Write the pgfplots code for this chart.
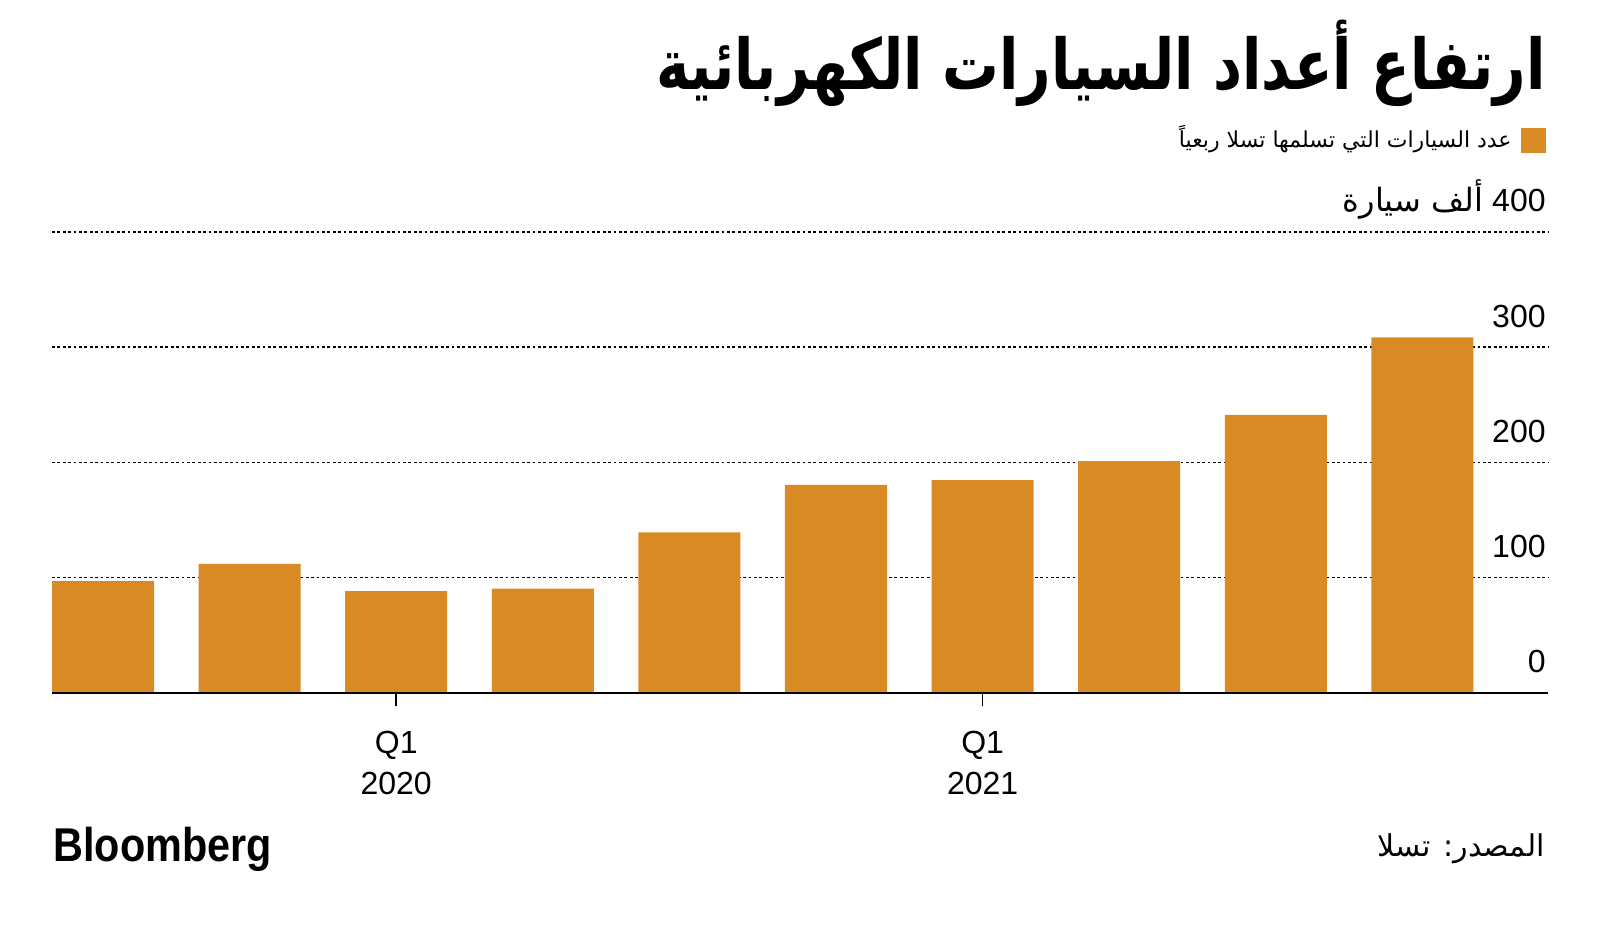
\documentclass[border=0pt]{standalone}
\usepackage{fontspec}
\setmainfont{Liberation Sans}
\newfontfamily\arabicfont[Script=Arabic]{DejaVu Sans}
\TeXXeTstate=1
\usepackage{pgfplots}
\pgfplotsset{compat=1.18}

\definecolor{barorange}{RGB}{218,138,36}

% Tesla quarterly deliveries, thousands (Q3 2019 .. Q4 2021)
\pgfplotstableread{
idx deliveries
0 97.0
1 112.0
2 88.4
3 90.65
4 139.3
5 180.57
6 184.8
7 201.25
8 241.3
9 308.6
}\deliveries

\begin{document}
\begin{tikzpicture}
\path (0pt,0pt) rectangle (800pt,463pt);

\begin{axis}[
  at={(26pt,116.5pt)}, anchor=south west,
  scale only axis,
  width=748pt, height=230.5pt,
  xmin=-0.348, xmax=9.857,
  ymin=0, ymax=400,
  clip=false,
  ybar, bar width=0.696,
  axis line style={draw=none},
  ytick={100,200,300,400},
  yticklabels={100,200,300,{{\arabicfont\beginR ألف سيارة\endR}\ 400}},
  extra y ticks={0},
  extra y tick labels={0},
  extra y tick style={grid=none},
  yticklabel pos=right,
  ytick style={draw=none},
  yticklabel style={anchor=base east, inner sep=0pt, xshift=-1pt, yshift=10pt,
    font=\fontsize{16}{19}\selectfont},
  ymajorgrids,
  grid style={black, line width=0.75pt, dash pattern=on 1.4pt off 1.3pt},
  xtick={2,6},
  xticklabels={{Q1\\2020},{Q1\\2021}},
  xtick pos=bottom,
  xtick align=outside,
  major tick length=6.5pt,
  xtick style={black, line width=0.8pt},
  xticklabel style={align=center, anchor=north, inner sep=0pt, yshift=-12.6pt,
    font=\fontsize{16}{20.5}\selectfont},
]
\addplot[fill=barorange, draw=none] table[x=idx, y=deliveries] {\deliveries};
\draw[black, line width=1.25pt] (rel axis cs:0,0) -- (rel axis cs:1,0);
\end{axis}

% title
\node[anchor=base east, inner sep=0pt] at (773pt,418pt)
  {\scalebox{0.807}[1]{\arabicfont\bfseries\fontsize{35}{40}\selectfont\beginR ارتفاع أعداد السيارات الكهربائية\endR}};

% legend
\fill[barorange] (760.5pt,386.5pt) rectangle (773pt,399pt);
\node[anchor=base east, inner sep=0pt] at (756pt,389pt)
  {\arabicfont\fontsize{11}{13}\selectfont\beginR عدد السيارات التي تسلمها تسلا ربعياً\endR};

% footer
\node[anchor=base west, inner sep=0pt] at (26.5pt,32pt)
  {\scalebox{0.873}[1]{\bfseries\fontsize{23.7}{26}\selectfont Bloomberg}};
\node[anchor=base east, inner sep=0pt] at (772.5pt,34.5pt)
  {\arabicfont\fontsize{15}{18}\selectfont\beginR المصدر: تسلا\endR};
\end{tikzpicture}
\end{document}
